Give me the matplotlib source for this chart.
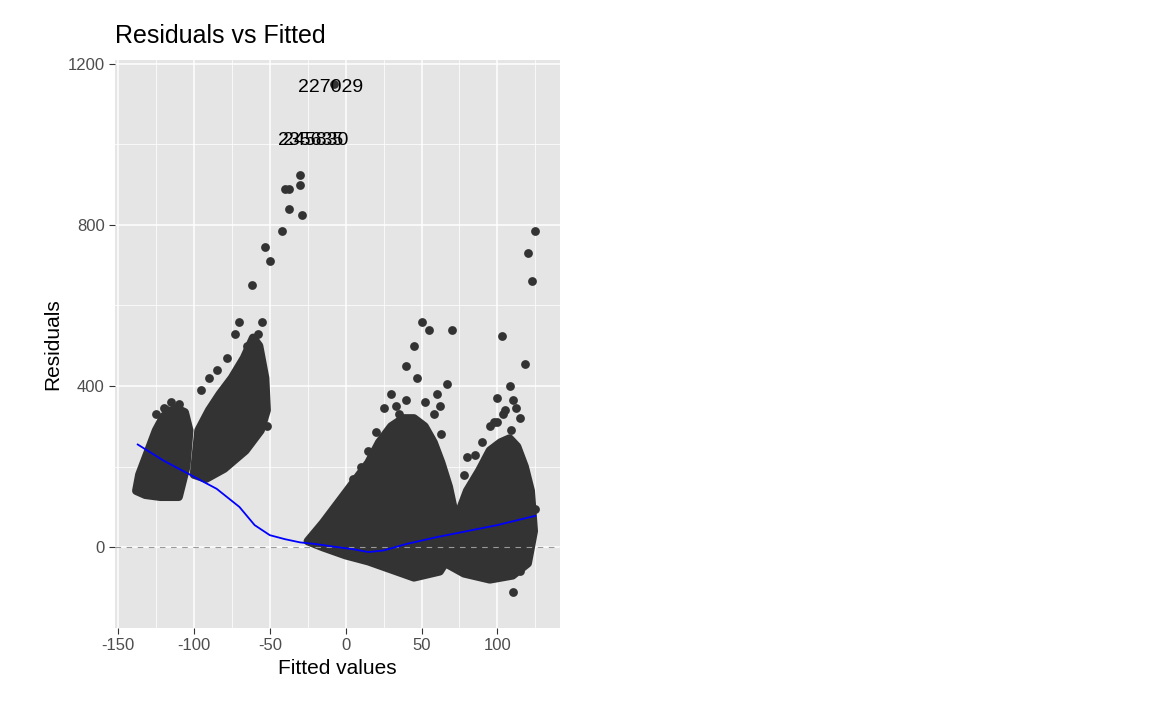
import matplotlib
matplotlib.use("Agg")
import matplotlib.pyplot as plt

plt.rcParams["font.family"] = ["Liberation Sans", "DejaVu Sans"]

# dense clouds of residuals, outlined as polygons (fitted, residual)
cloud_a_x = [-138, -136, -130, -125, -120, -112, -106, -103, -105, -110, -122, -132]
cloud_a_y = [140, 180, 240, 290, 325, 345, 335, 290, 200, 125, 125, 130]
cloud_b_x = [-100, -97, -90, -83, -75, -67, -61, -57, -53, -52, -56, -66, -80, -92]
cloud_b_y = [180, 290, 340, 380, 420, 470, 520, 500, 420, 340, 290, 240, 195, 170]
cloud_c_x = [-25, -15, -5, 5, 15, 22, 30, 38, 45, 52, 58, 63, 68, 72, 72, 62, 45, 30, 15, 0, -15]
cloud_c_y = [15, 60, 110, 160, 210, 260, 300, 320, 320, 300, 260, 210, 150, 80, 0, -60, -75, -55, -35, -20, 0]
cloud_d_x = [66, 72, 80, 88, 95, 102, 108, 113, 118, 122, 124, 120, 110, 95, 78]
cloud_d_y = [-40, 60, 140, 190, 240, 260, 270, 250, 200, 140, 40, -40, -70, -80, -65]

# isolated points
out_x = [-53, -50, -42, -40, -37, -37, -30, -30, -29, -62, -52, -8, -70, -73, -78, -85, -90,
         -95, -110, -115, -118, -125, -120, -55, -58, -65,
         120, 125, 123, 118, 103, 108, 110, 112, 100, 50, 55, 70, 45, 40, 67,
         125, 110, 115, 118, 120, 80, 85, 35, 30, 25, 20, 40, 47, 60, 62, 98, 105, 115,
         10, 5, 0, 15, 33, 52, 58, 63, 78, 90, 95, 100, 104, 109]
out_y = [745, 710, 785, 890, 890, 840, 925, 900, 825, 650, 300, 1150, 560, 530, 470, 440, 420,
         390, 355, 360, 340, 330, 345, 560, 530, 500,
         730, 785, 660, 455, 525, 400, 365, 345, 370, 560, 540, 540, 500, 450, 405,
         95, -110, -60, -40, -20, 225, 230, 330, 380, 345, 285, 365, 420, 380, 350, 310, 340, 320,
         200, 170, 130, 240, 350, 360, 330, 280, 180, 260, 300, 310, 330, 290]

label_names = ["227029", "235635", "245830"]
label_x = [-10, -23, -20]
label_y = [1140, 1010, 1010]

# loess smoother
smooth_x = [-137, -120, -100, -85, -70, -60, -50, -40, -30, -20, -5, 5, 15, 25, 40, 60, 80, 100, 125]
smooth_y = [255, 215, 175, 145, 100, 55, 30, 20, 12, 8, 0, -5, -12, -8, 8, 25, 40, 55, 78]

fig = plt.figure(figsize=(11.52, 7.11), dpi=100)
ax = fig.add_axes([0.0998, 0.117, 0.386, 0.799])
ax.set_facecolor("#E5E5E5")
for s in ax.spines.values():
    s.set_visible(False)

ax.set_xlim(-152, 141)
ax.set_ylim(-176, 1210)
ax.set_xticks([-150, -100, -50, 0, 50, 100])
ax.set_xticklabels(["-150", "-100", "-50", "0", "50", "100"])
ax.set_yticks([0, 400, 800, 1200])
ax.set_xticks([-125, -75, -25, 25, 75, 125], minor=True)
ax.set_yticks([-200, 200, 600, 1000], minor=True)
ax.grid(which="major", color="white", lw=1.1)
ax.grid(which="minor", color="white", lw=0.55)
ax.set_axisbelow(True)
ax.tick_params(which="major", length=4, color="#333333", labelsize=12, labelcolor="#4D4D4D")
ax.tick_params(which="minor", length=0)

ax.axhline(0, color="#999999", ls=(0, (5, 5)), lw=0.8)

dot = "#333333"
for cx, cy in [(cloud_a_x, cloud_a_y), (cloud_b_x, cloud_b_y),
               (cloud_c_x, cloud_c_y), (cloud_d_x, cloud_d_y)]:
    ax.fill(cx, cy, color=dot, ec=dot, lw=6, joinstyle="round")
ax.scatter(out_x, out_y, s=40, color=dot, lw=0)

ax.plot(smooth_x, smooth_y, color="blue", lw=1.3)

for name, x, y in zip(label_names, label_x, label_y):
    ax.text(x, y, name, ha="center", va="center", fontsize=14)

ax.set_xlabel("Fitted values", fontsize=15)
ax.set_ylabel("Residuals", fontsize=15)
ax.set_title("Residuals vs Fitted", fontsize=18, loc="left", x=0.0, pad=12)

fig.savefig("out.png", dpi=100)
